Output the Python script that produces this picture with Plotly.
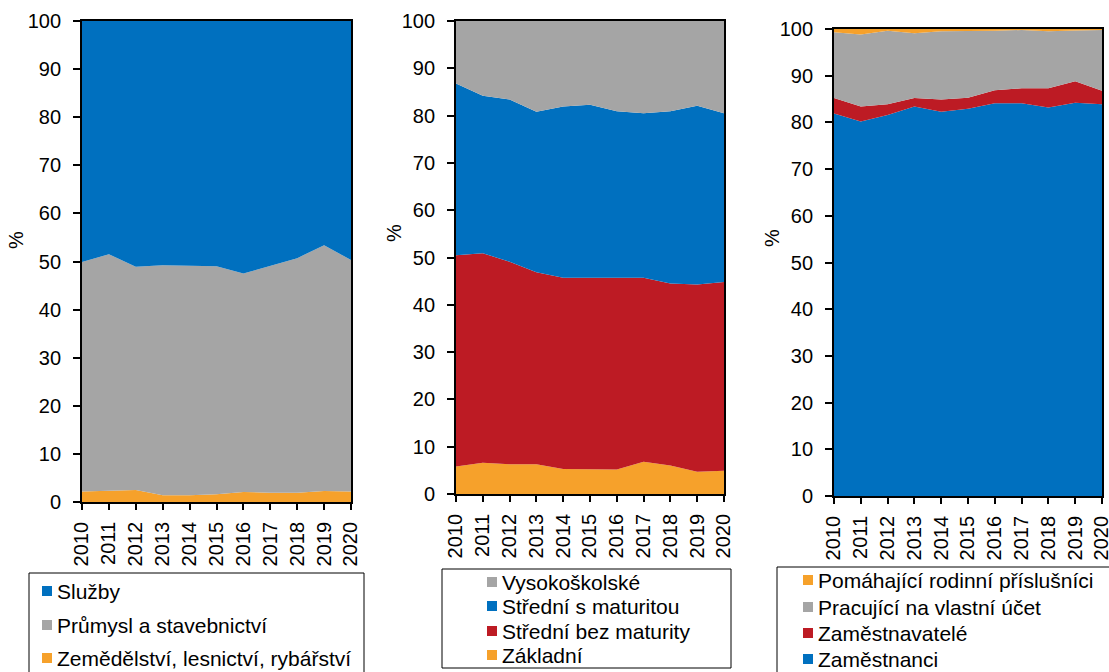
import plotly.graph_objects as go

years = [2010, 2011, 2012, 2013, 2014, 2015, 2016, 2017, 2018, 2019, 2020]
year_labels = [str(y) for y in years]

# Panel 1 – sectors (bottom to top)
p1_names = ["Zemědělství, lesnictví, rybářství", "Průmysl a stavebnictví", "Služby"]
p1_zem = [2.2, 2.3, 2.5, 1.4, 1.4, 1.6, 2.1, 1.9, 1.9, 2.3, 2.2]
p1_prum = [47.7, 49.2, 46.4, 47.8, 47.7, 47.4, 45.4, 47.2, 48.8, 51.1, 48.1]
p1_sluzby = [50.1, 48.5, 51.1, 50.8, 50.9, 51.0, 52.5, 50.9, 49.3, 46.6, 49.7]

# Panel 2 – education (bottom to top)
p2_names = ["Základní", "Střední bez maturity", "Střední s maturitou", "Vysokoškolské"]
p2_zakl = [5.8, 6.6, 6.3, 6.3, 5.3, 5.3, 5.2, 6.8, 6.0, 4.7, 4.9]
p2_bez = [44.7, 44.3, 42.8, 40.6, 40.4, 40.4, 40.5, 38.9, 38.5, 39.6, 39.9]
p2_smat = [36.3, 33.3, 34.3, 33.9, 36.2, 36.6, 35.2, 34.8, 36.4, 37.8, 35.7]
p2_vs = [13.2, 15.8, 16.6, 19.2, 18.1, 17.7, 19.1, 19.5, 19.1, 17.9, 19.5]

# Panel 3 – employment status (bottom to top)
p3_names = ["Zaměstnanci", "Zaměstnavatelé", "Pracující na vlastní účet", "Pomáhající rodinní příslušníci"]
p3_zam = [81.9, 80.2, 81.6, 83.4, 82.3, 82.9, 84.1, 84.1, 83.2, 84.2, 83.9]
p3_zamtel = [3.3, 3.2, 2.3, 1.8, 2.6, 2.4, 2.8, 3.2, 4.1, 4.6, 2.9]
p3_osvc = [14.1, 15.4, 15.7, 13.9, 14.6, 14.2, 12.7, 12.5, 12.2, 10.9, 13.0]
p3_pom = [0.7, 1.2, 0.4, 0.9, 0.5, 0.5, 0.4, 0.2, 0.5, 0.3, 0.2]

BLUE = "#0070BF"
GRAY = "#A5A5A5"
RED = "#BD1B24"
ORANGE = "#F6A12B"
FONT = "Liberation Sans, Arial, sans-serif"

W, H = 1109, 672

fig = go.Figure()

panels = [
    (1, list(zip(p1_names, [p1_zem, p1_prum, p1_sluzby], [ORANGE, GRAY, BLUE]))),
    (2, list(zip(p2_names, [p2_zakl, p2_bez, p2_smat, p2_vs], [ORANGE, RED, BLUE, GRAY]))),
    (3, list(zip(p3_names, [p3_zam, p3_zamtel, p3_osvc, p3_pom], [BLUE, RED, GRAY, ORANGE]))),
]

for idx, series in panels:
    xa = "x" if idx == 1 else f"x{idx}"
    ya = "y" if idx == 1 else f"y{idx}"
    for name, vals, col in series:
        fig.add_trace(go.Scatter(
            x=years, y=vals, name=name, xaxis=xa, yaxis=ya,
            stackgroup=f"s{idx}", mode="lines",
            line=dict(width=0, color=col), fillcolor=col,
            showlegend=False,
        ))

# plot-area pixel boxes (left, right, top, bottom)
boxes = {1: (82, 351, 21, 502), 2: (456, 724, 21, 494), 3: (834, 1102, 29, 496)}

def px_x(p):
    return p / W

def px_y(p):
    return 1 - p / H

axis_common = dict(
    showgrid=False, zeroline=False, showline=True, linecolor="black", linewidth=1.8,
    mirror=True, ticks="outside", tickcolor="black", tickwidth=1.5, automargin=False,
    ticklabeloverflow="allow",
    tickfont=dict(family=FONT, size=20, color="black"),
)

for idx, (l, r, t, b) in boxes.items():
    xk = "xaxis" if idx == 1 else f"xaxis{idx}"
    yk = "yaxis" if idx == 1 else f"yaxis{idx}"
    xa = "x" if idx == 1 else f"x{idx}"
    ya = "y" if idx == 1 else f"y{idx}"
    fig.update_layout(**{
        xk: dict(axis_common, domain=[px_x(l), px_x(r)], anchor=ya, range=[2010, 2020],
                 tickmode="array", tickvals=years, ticktext=year_labels, tickangle=-90,
                 ticklen=6, ticklabelstandoff=4),
        yk: dict(axis_common, domain=[px_y(b), px_y(t)], anchor=xa, range=[0, 100],
                 tickmode="array", tickvals=list(range(0, 101, 10)), ticklen=7,
                 ticklabelstandoff=8),
    })

# "%" axis titles
for xp, yp in [(16, 240), (394, 233), (772, 238)]:
    fig.add_annotation(x=px_x(xp), y=px_y(yp), xref="paper", yref="paper", text="%",
                       textangle=-90, showarrow=False, xanchor="center", yanchor="middle",
                       font=dict(family=FONT, size=20, color="black"))

# Legends (box, swatches, labels) – drawn in paper pixels
legends = [
    dict(box=(29, 364, 573, 690), sq_x=42, txt_x=55, ys=[591, 625, 658],
         items=list(zip(p1_names[::-1], [BLUE, GRAY, ORANGE]))),
    dict(box=(442, 731, 569, 668), sq_x=487, txt_x=500, ys=[582, 606, 631, 655],
         items=list(zip(p2_names[::-1], [GRAY, BLUE, RED, ORANGE]))),
    dict(box=(777, 1130, 567, 690), sq_x=803, txt_x=816, ys=[580, 607, 633, 659],
         items=list(zip(p3_names[::-1], [ORANGE, GRAY, RED, BLUE]))),
]

for lg in legends:
    l, r, t, b = lg["box"]
    fig.add_shape(type="rect", xref="paper", yref="paper",
                  x0=px_x(l), x1=px_x(r), y0=px_y(b), y1=px_y(t),
                  line=dict(color="black", width=1), fillcolor="rgba(0,0,0,0)")
    for (name, col), yc in zip(lg["items"], lg["ys"]):
        fig.add_shape(type="rect", xref="paper", yref="paper",
                      x0=px_x(lg["sq_x"]), x1=px_x(lg["sq_x"] + 10),
                      y0=px_y(yc + 5), y1=px_y(yc - 5),
                      line=dict(width=0), fillcolor=col)
        fig.add_annotation(x=px_x(lg["txt_x"]), y=px_y(yc), xref="paper", yref="paper",
                           text=name, showarrow=False, xanchor="left", yanchor="middle",
                           font=dict(family=FONT, size=21, color="black"))

fig.update_layout(
    width=W, height=H, margin=dict(l=0, r=0, t=0, b=0, autoexpand=False),
    paper_bgcolor="white", plot_bgcolor="white",
    font=dict(family=FONT, size=20, color="black"),
    showlegend=False,
)

fig.write_html(
    "out.html",
    config={"displayModeBar": False},
    post_script="document.body.style.margin='0';document.body.style.overflow='hidden';",
)
